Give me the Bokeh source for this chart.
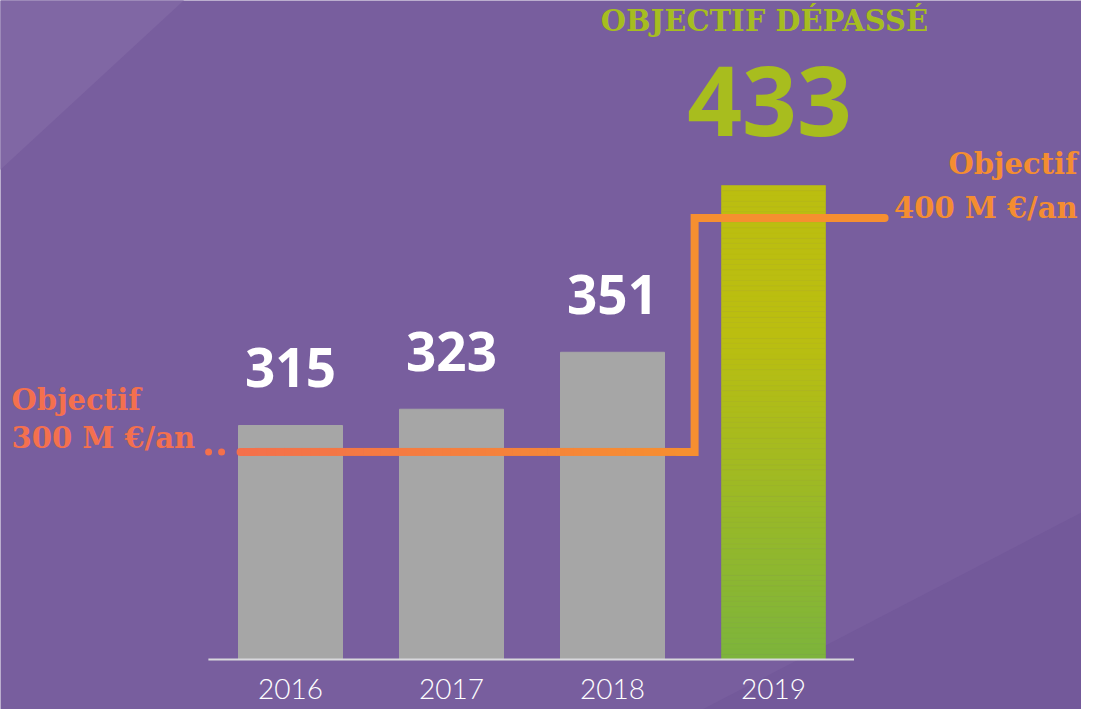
import numpy as np
from bokeh.plotting import figure
from bokeh.models import Range1d
from bokeh.core.properties import value
from bokeh.embed import file_html
from bokeh.resources import INLINE

# ---------------- data ----------------
years = ["2016", "2017", "2018", "2019"]
values = [315, 323, 351, 433]
base_value = 200
objective_low_text = ["Objectif", "300 M €/an"]
objective_high_text = ["Objectif", "400 M €/an"]
step_x = [-0.31, 2.51, 2.51, 3.69]      # objective step line (category units)
step_y = [302, 302, 417, 417]            # objective step line (value units, as drawn)
headline = "OBJECTIF DÉPASSÉ"

# ---------------- layout ----------------
W, H = 1081, 709
OFFX, OFFY = 12, 14   # shift so the whole composition fits the frame
PX_X = 161.0      # px per category
PX_Y = 2.034      # px per value unit
x0_px = 302.0 - OFFX
x_start = -x0_px / PX_X
x_end = x_start + W / PX_X
y_end = values[0] + (439.0 - OFFY) / PX_Y
y_start = y_end - H / PX_Y

BG = "#785e9e"
GRAY = "#a6a6a6"
BAR_W = 0.646
BL = 0.37   # baseline correction factor (em)

p = figure(width=W, height=H, output_backend="svg", toolbar_location=None,
           x_range=Range1d(x_start, x_end), y_range=Range1d(y_start, y_end),
           min_border=0, background_fill_color=BG, border_fill_color=BG)
p.axis.visible = False
p.grid.visible = False
p.outline_line_color = None


def rx(px):
    return x_start + (px - OFFX) / PX_X


def ry(py):
    return y_end - (py - OFFY) / PX_Y


# background decorative facets
p.patch([rx(0), rx(232), rx(0)], [ry(-20), ry(-20), ry(194)], color="#8067a4", line_color=None)
p.patch([rx(681), rx(1120), rx(1120)], [ry(740), ry(512), ry(740)], color="#73599a", line_color=None)


def lerp_hex(c1, c2, t):
    a = [int(c1[i:i + 2], 16) for i in (1, 3, 5)]
    b = [int(c2[i:i + 2], 16) for i in (1, 3, 5)]
    return "#%02x%02x%02x" % tuple(int(round(a[k] + (b[k] - a[k]) * t)) for k in range(3))


# gray bars
idx = list(range(len(years)))
p.vbar(x=idx[:3], top=values[:3], bottom=base_value, width=BAR_W, color=GRAY)

# gradient bar for last year
n = 90
edges = np.linspace(base_value, values[3], n + 1)
cols = []
for i in range(n):
    t = (i + 0.5) / n
    cols.append(lerp_hex("#7cb43c", "#bbbe10", min(1.0, t / 0.68)))
p.quad(left=idx[3] - BAR_W / 2, right=idx[3] + BAR_W / 2, bottom=edges[:-1], top=edges[1:],
       fill_color=cols, line_color=cols, line_width=0.6)

# baseline
p.line(x=[-0.51, 3.5], y=[base_value, base_value], line_color="#d8d8dc", line_width=2)

# objective step line with gradient on the lower part
x_grad_end = step_x[1] - 0.1
m = 50
gx = np.linspace(step_x[0], x_grad_end, m + 1)
gcols = [lerp_hex("#f4704b", "#f68e30", (i + 0.5) / m) for i in range(m)]
p.segment(x0=gx[:-1], y0=[step_y[0]] * m, x1=gx[1:] + 0.004, y1=[step_y[0]] * m,
          line_color=gcols, line_width=8, line_cap="butt")
p.line(x=[x_grad_end] + step_x[1:], y=[step_y[0]] + step_y[1:], line_color="#f68f30",
       line_width=8, line_join="miter", line_cap="round")
p.scatter(x=[step_x[0]], y=[step_y[0]], size=8, color="#f4704b", line_color=None)
p.scatter(x=[step_x[0] - 32 / PX_X, step_x[0] - 19 / PX_X], y=[step_y[0]] * 2, size=7,
          color="#f4704b", line_color=None)

SLAB = value("DejaVu Serif")
NUMF = value("Noto Sans")

# value labels
p.text(x=idx[:3], y=values[:3], text=[str(v) for v in values[:3]], text_align="center",
       text_baseline="alphabetic", y_offset=-38 - BL * 53, text_color="white", text_font=NUMF,
       text_font_size="53px", text_font_style="bold")
p.text(x=[idx[3]], y=[values[3]], text=[str(values[3])], text_align="center",
       text_baseline="alphabetic", y_offset=-49 - BL * 96, x_offset=-4, text_color="#a8bd1e",
       text_font=NUMF, text_font_size="96px", text_font_style="bold")
p.text(x=[idx[3]], y=[values[3]], text=[headline], text_align="center",
       text_baseline="alphabetic", y_offset=-154 - BL * 29, x_offset=-9, text_color="#a6bd20",
       text_font=SLAB, text_font_size="29px", text_font_style="bold")

# objective labels
p.text(x=[step_x[0]] * 2, y=[step_y[0]] * 2, text=objective_low_text, text_align="left",
       text_baseline="alphabetic", x_offset=-229,
       y_offset=[-41 - BL * 29, -3 - BL * 29], text_color="#f4704e",
       text_font=SLAB, text_font_size="29px", text_font_style="bold")
p.text(x=[step_x[-1]] * 2, y=[step_y[-1]] * 2, text=objective_high_text, text_align="right",
       text_baseline="alphabetic", x_offset=193,
       y_offset=[-43 - BL * 29, 1 - BL * 29], text_color="#f48d31",
       text_font=SLAB, text_font_size="29px", text_font_style="bold")

# year labels
p.text(x=idx, y=[base_value] * 4, text=years, text_align="center", text_baseline="alphabetic",
       y_offset=40 - BL * 28, text_color="white", text_font=value("Lato Light"),
       text_font_size="28px")

open("out.html", "w").write(file_html(p, INLINE))
